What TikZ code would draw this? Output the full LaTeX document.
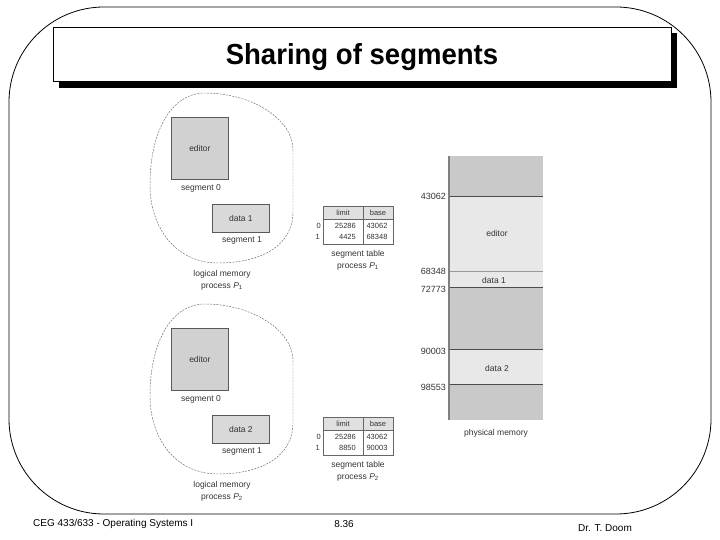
\documentclass[tikz,border=0pt]{standalone}
\usepackage{fontspec}
\setmainfont{Liberation Sans}
\begin{document}
\begin{tikzpicture}[x=1pt,y=-1pt,
  fig/.style={font=\fontsize{8.5}{10}\selectfont, text=black!80, inner sep=0pt},
  addr/.style={font=\fontsize{9}{10}\selectfont, text=black!80, inner sep=0pt, anchor=east},
  tab/.style={font=\fontsize{7.5}{9}\selectfont, text=black!80, inner sep=0pt},
  segbox/.style={fill=black!18, draw=black!65, line width=0.8pt},
  blob/.style={draw=black!60, line width=0.45pt, dash pattern=on 2pt off 1.2pt},
  memlight/.style={fill=black!9},
  bnd/.style={draw=black!70, line width=0.8pt},
  foot/.style={font=\fontsize{10}{12}\selectfont, inner sep=0pt}
]
\useasboundingbox (0,0) rectangle (720,540);
% frame
\draw[line width=0.8pt, rounded corners=95pt] (9,7) rectangle (711,514);
% title box
\fill[black] (59,33) rectangle (677,88);
\draw[fill=white, line width=0.8pt] (53,27) rectangle (671,81);
\node[font=\fontsize{29}{32}\bfseries\selectfont, xscale=0.95] (title) at (362,57) {Sharing of segments};

% logical memories and tables
\foreach \dy/\k/\dn/\lim/\bas in {0/1/1/4425/68348, 211/2/2/8850/90003} {
  \begin{scope}[yshift=-\dy pt]
    \draw[blob] (293,150) -- (293,212)
      .. controls (293,245) and (262,263) .. (218,263)
      .. controls (176,263) and (150,228) .. (150,185)
      .. controls (150,130) and (172,93) .. (205,93)
      .. controls (250,93) and (293,118) .. cycle;
    \node[segbox, minimum width=57pt, minimum height=62pt, anchor=north west] (ed\k) at (171,117) {};
    \node[fig] (edt\k) at (ed\k.center) {editor};
    \node[fig] (s0\k) at (201,188) {segment 0};
    \node[segbox, fill=black!15, minimum width=57pt, minimum height=28pt, anchor=north west] (dt\k) at (212,204) {};
    \node[fig] (dtt\k) at (dt\k.center) {data \dn};
    \node[fig] (s1\k) at (242,240) {segment 1};
    \node[fig] (lm\k) at (222,274) {logical memory};
    \node[fig] (pr\k) at (222,286) {process \textit{P}\textsubscript{\k}};
    % segment table
    \draw[fill=black!12, draw=black!60, line width=0.6pt] (323,206) rectangle (393,219);
    \draw[draw=black!60, line width=0.6pt] (323,219) rectangle (393,244);
    \draw[draw=black!60, line width=0.6pt] (363,206) -- (363,244);
    \node[tab] (hl\k) at (343,213) {limit};
    \node[tab] (hb\k) at (378,213) {base};
    \node[tab, anchor=east] (r0\k) at (321,226) {0};
    \node[tab, anchor=east] (r1\k) at (320,237) {1};
    \node[tab, anchor=east] (l0\k) at (356,226) {25286};
    \node[tab, anchor=east] (l1\k) at (356,237) {\lim};
    \node[tab] (b0\k) at (377,226) {43062};
    \node[tab] (b1\k) at (377,237) {\bas};
    \node[fig] (st\k) at (358,254) {segment table};
    \node[fig] (sp\k) at (358,266) {process \textit{P}\textsubscript{\k}};
  \end{scope}
}

% physical memory
\fill[black!21] (449,156) rectangle (543,420);
\fill[memlight] (449,196) rectangle (543,271);
\fill[memlight] (449,271) rectangle (543,287);
\fill[memlight] (449,349) rectangle (543,384);
\draw[bnd] (449,196) -- (543,196);
\draw[draw=black!40, line width=0.8pt] (449,271) -- (543,271);
\draw[bnd] (449,287) -- (543,287);
\draw[bnd] (449,349) -- (543,349);
\draw[bnd] (449,384) -- (543,384);
\draw[draw=black!50, line width=1.5pt] (449,156) -- (449,420);
\node[fig] (pe) at (497,233) {editor};
\node[fig] (pd1) at (494,280) {data 1};
\node[fig] (pd2) at (497,368) {data 2};
\node[fig] (pm) at (496,433) {physical memory};
\node[addr] (a1) at (446,196) {43062};
\node[addr] (a2) at (446,271) {68348};
\node[addr] (a3) at (446,289) {72773};
\node[addr] (a4) at (446,351) {90003};
\node[addr] (a5) at (446,387) {98553};

% footer
\node[foot, anchor=west] (f1) at (33,524) {CEG 433/633 - Operating Systems I};
\node[foot] (f2) at (344,524) {8.36};
\node[foot] (f3) at (605,528) {Dr. T. Doom};
\end{tikzpicture}
\end{document}
